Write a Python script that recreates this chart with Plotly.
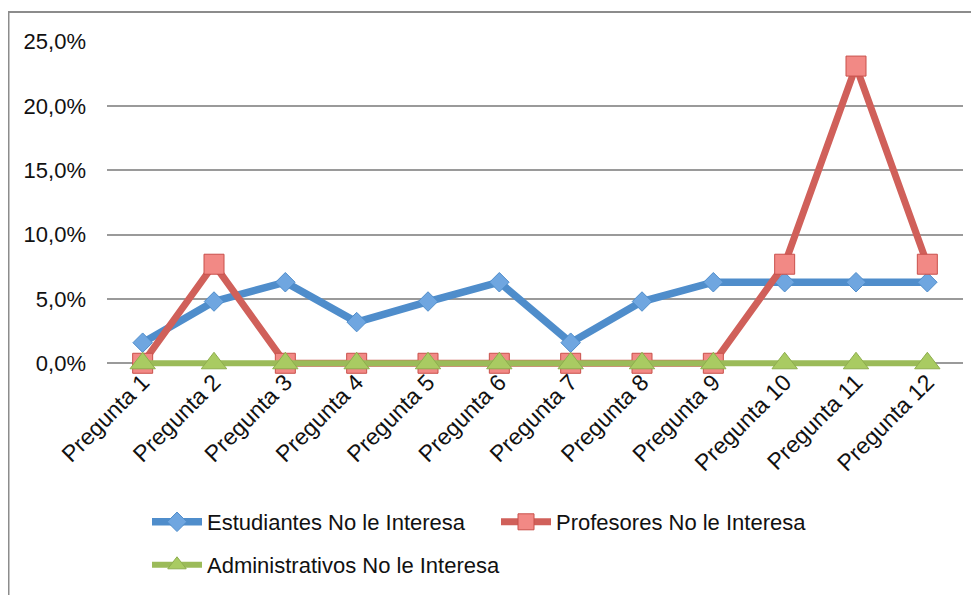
import plotly.graph_objects as go

categories = [f"Pregunta {i}" for i in range(1, 13)]
estudiantes = [1.6, 4.8, 6.3, 3.2, 4.8, 6.3, 1.6, 4.8, 6.3, 6.3, 6.3, 6.3]
profesores = [0.0, 7.7, 0.0, 0.0, 0.0, 0.0, 0.0, 0.0, 0.0, 7.7, 23.1, 7.7]
administrativos = [0.0] * 12
y_ticks = [0, 5, 10, 15, 20, 25]
y_tick_labels = ["0,0%", "5,0%", "10,0%", "15,0%", "20,0%", "25,0%"]

FONT = "Liberation Sans, Arial, Helvetica, sans-serif"

fig = go.Figure()
fig.add_trace(go.Scatter(
    x=categories, y=estudiantes, name="Estudiantes No le Interesa",
    mode="lines+markers", cliponaxis=False,
    line=dict(color="#4F8DCB", width=7.5),
    marker=dict(symbol="diamond", size=15, color="#6FA6E0",
                line=dict(color="#4F8DCB", width=1)),
    legend="legend",
))
fig.add_trace(go.Scatter(
    x=categories, y=profesores, name="Profesores No le Interesa",
    mode="lines+markers", cliponaxis=False,
    line=dict(color="#D0605A", width=7),
    marker=dict(symbol="square", size=20, color="#F28985",
                line=dict(color="#C9504B", width=1)),
    legend="legend2",
))
fig.add_trace(go.Scatter(
    x=categories, y=administrativos, name="Administrativos No le Interesa",
    mode="lines+markers", cliponaxis=False,
    line=dict(color="#9BBB59", width=6),
    marker=dict(symbol="triangle-up", size=22, color="#A9CB62",
                line=dict(color="#8EAE4E", width=1)),
    legend="legend3",
))

# page is offset by the 8px body margin
OFF = 8
W, H = 979 - OFF, 595 - OFF
Y_LO, Y_HI = -0.6, 25.05
PX_PER_UNIT = 321.0 / 25.0
zero_fig = 363 - OFF                      # y pixel of 0% inside the figure
top_fig = zero_fig - (Y_HI) * PX_PER_UNIT
bot_fig = zero_fig - (Y_LO) * PX_PER_UNIT
L, R = 99, 16
T = round(top_fig)
B = round(H - bot_fig)
pw = W - L - R
ph = H - T - B


def px2x(px):
    return (px - OFF - L) / pw


def py2y(py):
    return (H - B - (py - OFF)) / ph


zero_pos = (-Y_LO) / (Y_HI - Y_LO)

fig.add_shape(type="path", xref="paper", yref="paper",
              path=(f"M {px2x(8.5)} {py2y(640)} L {px2x(8.5)} {py2y(12)} "
                    f"L {px2x(1010)} {py2y(12)}"),
              line=dict(color="#8C8C8C", width=2), layer="above")

legend_common = dict(orientation="h", xanchor="left", yanchor="top",
                     itemwidth=50, font=dict(size=22, color="#111111"),
                     bgcolor="rgba(0,0,0,0)")

fig.update_layout(
    width=W, height=H, showlegend=True,
    margin=dict(l=L, r=R, t=T, b=B, autoexpand=False),
    paper_bgcolor="white", plot_bgcolor="white",
    font=dict(family=FONT, size=22, color="#111111"),
    xaxis=dict(
        type="category", range=[-0.5, 11.5], tickangle=-45,
        anchor="free", position=zero_pos,
        showgrid=False, zeroline=False, showline=False, ticks="",
        tickfont=dict(size=23), automargin=False,
    ),
    yaxis=dict(
        range=[Y_LO, Y_HI], tickvals=y_ticks, ticktext=y_tick_labels,
        showgrid=True, gridcolor="#9A9A9A", gridwidth=2,
        zeroline=False, showline=False, ticks="", ticklabelstandoff=20,
        tickfont=dict(size=22), automargin=False,
    ),
    legend=dict(x=px2x(147), y=py2y(501), **legend_common),
    legend2=dict(x=px2x(496), y=py2y(501), **legend_common),
    legend3=dict(x=px2x(147), y=py2y(544), **legend_common),
)

fig.write_html("out.html")
